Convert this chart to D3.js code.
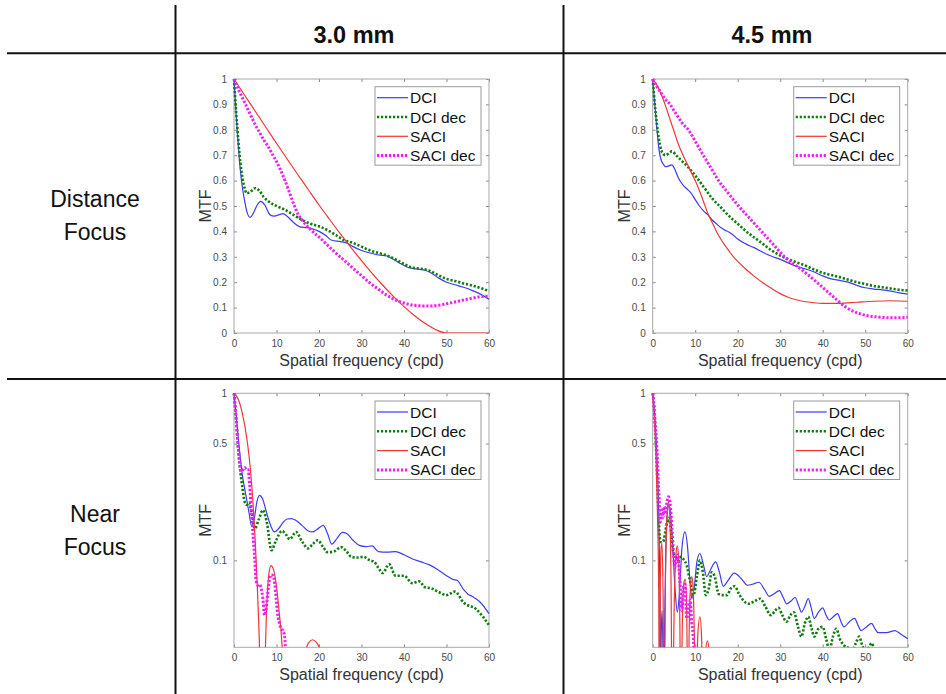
<!DOCTYPE html>
<html>
<head>
<meta charset="utf-8">
<script src="https://cdn.jsdelivr.net/npm/d3@7"></script>
<style>
body { margin: 0; background: #fff; }
svg { display: block; font-family: "Liberation Sans", Arial, sans-serif; }
</style>
</head>
<body>
<div id="chart"></div>
<script>
var width = 946;
var height = 694;

// legend / series
var seriesNames = ["DCI", "DCI dec", "SACI", "SACI dec"];
var seriesColors = ["#3c3cf0", "#0b7d0b", "#f03535", "#f41cf4"];
var seriesWidths = [1.2, 2.6, 1.2, 3];
var seriesDash = [null, "2.2,1.8", null, "2.2,1.8"];

// table text
var columnTitles = ["3.0 mm", "4.5 mm"];
var rowLabels = [["Distance", "Focus"], ["Near", "Focus"]];

// tick labels
var xTicks = [0, 10, 20, 30, 40, 50, 60];
var linTicks = [0, 0.1, 0.2, 0.3, 0.4, 0.5, 0.6, 0.7, 0.8, 0.9, 1];
var logTicks = [0.1, 0.5, 1];
var logMin = 0.0302;

// ---- Distance focus, 3.0 mm : [cpd, MTF]
var dist30DCI = [[0,1],[0.5,0.86],[1,0.74],[1.5,0.64],[2,0.57],[2.5,0.52],[3,0.48],[3.8,0.455],[4.5,0.47],[5.5,0.505],[6.3,0.518],[7.2,0.505],[8.5,0.465],[9.5,0.46],[10.5,0.465],[11.5,0.47],[12.5,0.46],[14,0.435],[15.5,0.418],[17,0.415],[18.5,0.41],[20,0.4],[21.5,0.385],[23,0.365],[25,0.36],[26.5,0.355],[28,0.34],[30,0.325],[32,0.315],[34,0.307],[36,0.303],[37.5,0.29],[39,0.275],[41,0.258],[43,0.252],[45,0.247],[46.5,0.235],[48,0.218],[50,0.2],[52,0.19],[54,0.18],[56,0.168],[58,0.153],[60,0.133]];
var dist30DCIdec = [[0,1],[0.5,0.87],[1,0.76],[1.5,0.67],[2,0.61],[2.5,0.57],[3,0.55],[3.8,0.555],[5,0.57],[6,0.56],[7,0.535],[8,0.52],[9,0.508],[10,0.5],[12,0.485],[14,0.465],[16,0.445],[18,0.43],[20,0.42],[22,0.405],[24,0.385],[26,0.365],[28,0.355],[30,0.34],[32,0.325],[34,0.315],[36,0.305],[38,0.29],[40,0.272],[42,0.257],[44,0.253],[46,0.245],[48,0.228],[50,0.213],[52,0.205],[54,0.195],[56,0.187],[58,0.177],[60,0.165]];
var dist30SACI = [[0,1],[2.5,0.936],[5,0.873],[7.5,0.81],[10,0.747],[12.5,0.685],[15,0.624],[17.5,0.564],[20,0.504],[22.5,0.447],[25,0.391],[27.5,0.337],[30,0.285],[32.5,0.235],[35,0.188],[37.5,0.144],[40,0.104],[42.5,0.068],[45,0.037],[47.5,0.013],[50,0],[55,0],[60,0]];
var dist30SACIdec = [[0,1],[1,0.96],[2,0.925],[3,0.89],[4,0.855],[5,0.82],[6,0.79],[7,0.76],[8,0.735],[9,0.705],[10,0.675],[11,0.64],[12,0.6],[13,0.555],[14,0.51],[15,0.47],[16,0.445],[17,0.425],[18,0.408],[19,0.392],[20,0.378],[22,0.346],[24,0.314],[26,0.285],[28,0.255],[30,0.226],[32,0.197],[34,0.172],[36,0.148],[38,0.13],[40,0.118],[42,0.11],[44,0.107],[46,0.106],[48,0.109],[50,0.115],[52,0.122],[54,0.13],[56,0.137],[58,0.143],[60,0.145]];

// ---- Distance focus, 4.5 mm
var dist45DCI = [[0,1],[0.5,0.9],[1,0.8],[1.5,0.72],[2,0.68],[2.5,0.665],[3,0.655],[3.8,0.658],[4.5,0.662],[5.2,0.645],[6,0.612],[7,0.585],[8,0.568],[9,0.552],[10,0.525],[11,0.5],[12,0.48],[13,0.465],[14,0.445],[15,0.43],[16,0.415],[17,0.405],[18,0.397],[19,0.385],[20,0.37],[22,0.35],[24,0.335],[26,0.317],[28,0.302],[30,0.29],[32,0.275],[34,0.262],[36,0.252],[38,0.24],[40,0.225],[42,0.213],[44,0.207],[46,0.2],[48,0.188],[50,0.178],[52,0.173],[54,0.17],[56,0.165],[58,0.158],[60,0.153]];
var dist45DCIdec = [[0,1],[0.5,0.9],[1,0.82],[1.5,0.76],[2,0.72],[2.5,0.705],[3,0.7],[4,0.71],[4.5,0.715],[5.5,0.7],[7,0.675],[8.5,0.65],[10,0.62],[12,0.575],[14,0.53],[16,0.495],[18,0.46],[20,0.43],[22,0.4],[24,0.375],[26,0.35],[28,0.325],[30,0.305],[32,0.29],[34,0.277],[36,0.265],[38,0.25],[40,0.237],[42,0.228],[44,0.22],[46,0.21],[48,0.2],[50,0.193],[52,0.185],[54,0.18],[56,0.175],[58,0.17],[60,0.167]];
var dist45SACI = [[0,1],[1,0.975],[2,0.94],[3,0.895],[4,0.845],[5,0.795],[6,0.745],[7,0.705],[8,0.67],[9,0.635],[10,0.6],[11,0.56],[12,0.515],[13,0.47],[14,0.435],[15,0.4],[16,0.37],[17,0.345],[18,0.322],[19,0.3],[20,0.282],[22,0.25],[24,0.222],[26,0.197],[28,0.175],[30,0.155],[32,0.14],[34,0.13],[36,0.123],[38,0.119],[40,0.117],[44,0.117],[48,0.121],[52,0.125],[56,0.127],[60,0.125]];
var dist45SACIdec = [[0,1],[1,0.97],[2,0.945],[3,0.92],[4.1,0.9],[5,0.875],[6,0.85],[7,0.825],[8.4,0.8],[10,0.755],[11.9,0.7],[13.7,0.65],[15.5,0.6],[17.8,0.55],[20.2,0.5],[22.9,0.45],[25.6,0.4],[28.3,0.35],[31,0.3],[35,0.25],[38.6,0.2],[42,0.15],[45.6,0.1],[48,0.08],[50,0.07],[53,0.063],[56,0.06],[58,0.06],[60,0.062]];

// ---- Near focus, 3.0 mm (log axis; 0.01 = below the axis floor)
var near30DCI = [[0,1],[0.5,0.75],[1,0.54],[1.5,0.41],[2,0.32],[2.5,0.27],[3,0.23],[3.5,0.195],[4.2,0.16],[4.8,0.18],[5.4,0.225],[6,0.245],[6.7,0.235],[7.5,0.2],[8.5,0.165],[9.5,0.148],[10.5,0.155],[11.5,0.168],[12.5,0.177],[13.5,0.178],[14.5,0.174],[16,0.162],[17.5,0.15],[18.5,0.148],[19.5,0.153],[21,0.162],[22,0.145],[23,0.125],[24.2,0.135],[25.5,0.147],[26.5,0.145],[28,0.132],[29.5,0.123],[31,0.121],[32.5,0.122],[34,0.113],[36,0.112],[38,0.113],[40,0.108],[42,0.102],[44,0.098],[46,0.094],[48,0.088],[50,0.081],[51.5,0.077],[52.5,0.076],[54,0.067],[55,0.063],[56,0.061],[58,0.056],[60,0.048]];
var near30DCIdec = [[0,1],[0.5,0.7],[1,0.46],[1.5,0.34],[2,0.27],[2.5,0.225],[3,0.215],[3.5,0.222],[4.2,0.19],[4.9,0.155],[5.8,0.175],[6.8,0.2],[7.8,0.165],[8.8,0.115],[9.8,0.13],[11.3,0.15],[12.3,0.142],[13.1,0.134],[14.6,0.148],[16,0.13],[17.4,0.118],[18.5,0.125],[19.7,0.132],[21,0.12],[22,0.112],[23.5,0.113],[25.2,0.12],[26.5,0.113],[27.6,0.105],[29,0.104],[30.5,0.105],[32,0.1],[33,0.098],[34,0.09],[35,0.084],[36.5,0.095],[38,0.081],[40,0.081],[42,0.073],[43.5,0.075],[45,0.069],[46.5,0.068],[48,0.065],[50,0.062],[52,0.065],[54,0.056],[57,0.051],[60,0.041]];
var near30SACI = [[0,1],[1,0.92],[2,0.75],[3,0.54],[3.5,0.43],[4,0.32],[4.5,0.215],[5,0.13],[5.5,0.068],[6,0.03],[6.4,0.01],[7,0.01],[7.4,0.03],[7.8,0.06],[8.2,0.083],[8.7,0.093],[9.3,0.088],[10,0.07],[10.6,0.05],[11.2,0.034],[11.6,0.022],[11.9,0.01],[16,0.01],[16.8,0.028],[17.5,0.032],[18.5,0.0335],[19.5,0.032],[20.3,0.029],[21,0.01],[60,0.01]];
var near30SACIdec = [[0,1],[0.5,0.71],[0.9,0.5],[1.3,0.39],[1.7,0.34],[2.1,0.35],[2.5,0.36],[2.9,0.35],[3.3,0.35],[3.7,0.28],[4.1,0.195],[4.5,0.14],[4.9,0.1],[5.2,0.076],[5.6,0.071],[6,0.072],[6.4,0.068],[6.8,0.059],[7.2,0.047],[7.6,0.052],[8,0.066],[8.4,0.078],[8.8,0.082],[9.2,0.081],[9.6,0.072],[9.9,0.06],[10.3,0.047],[10.7,0.042],[11.1,0.039],[11.5,0.038],[11.9,0.035],[12.2,0.025],[12.5,0.01],[60,0.01]];

// ---- Near focus, 4.5 mm
var near45DCI = [[0,1],[0.5,0.72],[1,0.42],[1.4,0.2],[1.7,0.07],[1.9,0.02],[2,0.035],[2.2,0.05],[2.4,0.03],[2.6,0.01],[2.8,0.04],[3.1,0.12],[3.5,0.2],[3.8,0.215],[4.2,0.19],[4.8,0.11],[5.3,0.065],[5.8,0.049],[6.3,0.065],[6.9,0.12],[7.6,0.148],[8.2,0.12],[8.7,0.08],[9.2,0.059],[9.8,0.07],[10.4,0.098],[11.1,0.11],[11.9,0.095],[12.7,0.08],[13.6,0.088],[14.8,0.098],[15.7,0.085],[16.6,0.07],[17.6,0.075],[19.2,0.084],[20.8,0.078],[22.3,0.071],[23.5,0.072],[25,0.074],[26.3,0.067],[27.4,0.061],[28.5,0.063],[29.8,0.066],[30.7,0.06],[31.5,0.055],[32.5,0.057],[33.5,0.06],[34.3,0.054],[35,0.049],[35.8,0.053],[36.6,0.059],[37.3,0.052],[38,0.045],[39,0.049],[40,0.052],[40.8,0.047],[41.5,0.044],[42.5,0.046],[43.5,0.048],[44.3,0.043],[45,0.04],[46.3,0.043],[47.5,0.045],[48.3,0.041],[49,0.038],[50.3,0.04],[51.5,0.042],[52.3,0.039],[53,0.037],[55,0.037],[57,0.038],[58.5,0.036],[60,0.034]];
var near45DCIdec = [[0,1],[0.3,0.85],[0.6,0.6],[0.9,0.4],[1.2,0.25],[1.5,0.16],[1.8,0.13],[2.1,0.128],[2.5,0.13],[3,0.15],[3.4,0.17],[3.8,0.18],[4.3,0.15],[4.9,0.11],[5.5,0.104],[6,0.1],[6.6,0.105],[7.2,0.102],[8,0.093],[8.8,0.075],[9.6,0.062],[10.4,0.08],[11.1,0.1],[11.8,0.085],[12.5,0.062],[13.2,0.068],[13.9,0.085],[14.6,0.08],[15.5,0.063],[16.4,0.062],[17.5,0.062],[18.4,0.068],[19.3,0.07],[20.3,0.063],[21.5,0.057],[22.5,0.055],[24,0.057],[25.3,0.059],[26.5,0.053],[27.8,0.047],[28.8,0.05],[29.6,0.052],[30.5,0.047],[31.5,0.043],[32.4,0.047],[33.2,0.049],[34.2,0.04],[35,0.035],[35.8,0.042],[36.6,0.046],[37.4,0.039],[38,0.035],[39,0.039],[40,0.04],[40.8,0.034],[41.6,0.029],[42.4,0.035],[43.2,0.039],[44,0.034],[45,0.031],[46,0.03],[47,0.029],[47.8,0.032],[48.6,0.035],[49.3,0.031],[50,0.029],[50.8,0.03],[51.5,0.032],[52,0.03]];
var near45SACI = [[0,1],[0.4,0.7],[0.8,0.4],[1.1,0.2],[1.4,0.07],[1.6,0.01],[1.75,0.06],[2,0.12],[2.2,0.125],[2.45,0.06],[2.7,0.01],[3,0.08],[3.4,0.19],[3.7,0.225],[4,0.19],[4.3,0.08],[4.6,0.01],[5.1,0.06],[5.5,0.11],[5.8,0.122],[6.1,0.1],[6.4,0.04],[6.6,0.01],[7,0.045],[7.4,0.075],[7.7,0.077],[8,0.05],[8.3,0.01],[8.6,0.04],[8.9,0.07],[9.2,0.08],[9.5,0.07],[9.8,0.035],[10.1,0.01],[10.6,0.035],[11.1,0.046],[11.5,0.035],[11.8,0.01],[12.4,0.028],[12.9,0.033],[13.3,0.028],[13.6,0.01],[60,0.01]];
var near45SACIdec = [[0,1],[0.3,0.85],[0.6,0.65],[0.94,0.5],[1.2,0.35],[1.5,0.24],[1.8,0.17],[2.1,0.2],[2.4,0.18],[2.7,0.21],[3,0.19],[3.3,0.22],[3.7,0.24],[4.1,0.22],[4.5,0.16],[4.9,0.11],[5.2,0.09],[5.5,0.1],[5.9,0.108],[6.2,0.09],[6.5,0.07],[6.9,0.05],[7.2,0.068],[7.6,0.072],[8,0.045],[8.4,0.05],[8.8,0.058],[9.2,0.042],[9.6,0.033],[9.9,0.02],[10.2,0.01],[60,0.01]];

var panels = [
  { row: 0, col: 0, log: false, series: [dist30DCI, dist30DCIdec, dist30SACI, dist30SACIdec] },
  { row: 0, col: 1, log: false, series: [dist45DCI, dist45DCIdec, dist45SACI, dist45SACIdec] },
  { row: 1, col: 0, log: true, series: [near30DCI, near30DCIdec, near30SACI, near30SACIdec] },
  { row: 1, col: 1, log: true, series: [near45DCI, near45DCIdec, near45SACI, near45SACIdec] }
];

var colX = [234, 652.7];
var rowY = [79, 393.3];
var plotW = 255;
var plotH = 254;

var svg = d3.select("#chart").append("svg")
    .attr("width", width)
    .attr("height", height);

svg.append("rect").attr("width", width).attr("height", height).attr("fill", "#fff");

// table grid
var grid = svg.append("g").attr("stroke", "#111").attr("stroke-width", 2);
grid.append("line").attr("x1", 175.5).attr("x2", 175.5).attr("y1", 5).attr("y2", height);
grid.append("line").attr("x1", 563.5).attr("x2", 563.5).attr("y1", 5).attr("y2", height);
grid.append("line").attr("x1", 7).attr("x2", width).attr("y1", 53.3).attr("y2", 53.3);
grid.append("line").attr("x1", 7).attr("x2", width).attr("y1", 379).attr("y2", 379);

// column headers
svg.selectAll(".colTitle")
    .data(columnTitles)
  .enter().append("text")
    .attr("class", "colTitle")
    .attr("x", function(d, i) { return [354, 772][i]; })
    .attr("y", 42.5)
    .attr("text-anchor", "middle")
    .attr("font-size", "23.5px")
    .attr("font-weight", "bold")
    .attr("fill", "#111")
    .text(function(d) { return d; });

// row labels
rowLabels.forEach(function(lines, r) {
  var baseY = [207.3, 521.7][r];
  lines.forEach(function(t, k) {
    svg.append("text")
      .attr("x", 95)
      .attr("y", baseY + k * 33)
      .attr("text-anchor", "middle")
      .attr("font-size", "23px")
      .attr("fill", "#111")
      .text(t);
  });
});

var line = d3.line().curve(d3.curveMonotoneX);

panels.forEach(function(p, pi) {
  var x0 = colX[p.col], y0 = rowY[p.row];
  var g = svg.append("g").attr("transform", "translate(" + x0 + "," + y0 + ")");

  var x = d3.scaleLinear().domain([0, 60]).range([0, plotW]);
  var y = p.log
    ? d3.scaleLog().domain([logMin, 1]).range([plotH, 0])
    : d3.scaleLinear().domain([0, 1]).range([plotH, 0]);
  var yTicks = p.log ? logTicks : linTicks;

  g.append("rect").attr("width", plotW).attr("height", plotH).attr("fill", "#fff");

  // axes (MATLAB style: ticks inside, box on)
  var axStyle = function(sel) {
    sel.select(".domain").remove();
    sel.selectAll(".tick line").attr("stroke", "#8a8a8a");
    sel.selectAll(".tick text").attr("fill", "#4a4a4a").attr("font-size", "10px")
      .attr("font-family", "Liberation Sans, Arial, sans-serif");
  };
  g.append("g").attr("transform", "translate(0," + plotH + ")")
    .call(d3.axisBottom(x).tickValues(xTicks).tickSizeInner(-3).tickSizeOuter(0).tickPadding(7)
      .tickFormat(d3.format("d")))
    .call(axStyle);
  g.append("g")
    .call(d3.axisTop(x).tickValues(xTicks).tickSizeInner(-3).tickSizeOuter(0).tickFormat(""))
    .call(axStyle);
  g.append("g")
    .call(d3.axisLeft(y).tickValues(yTicks).tickSizeInner(-3).tickSizeOuter(0).tickPadding(7)
      .tickFormat(function(d) { return String(+d.toFixed(1)); }))
    .call(axStyle);
  g.append("g").attr("transform", "translate(" + plotW + ",0)")
    .call(d3.axisRight(y).tickValues(yTicks).tickSizeInner(-3).tickSizeOuter(0).tickFormat(""))
    .call(axStyle);

  g.append("rect").attr("width", plotW).attr("height", plotH)
    .attr("fill", "none").attr("stroke", "#a8a8a8").attr("stroke-width", 1);

  // curves
  var clipId = "clip" + pi;
  g.append("clipPath").attr("id", clipId)
    .append("rect").attr("x", -2).attr("y", -2).attr("width", plotW + 4).attr("height", plotH + 2);

  var curves = g.append("g").attr("clip-path", "url(#" + clipId + ")");
  p.series.forEach(function(s, si) {
    line.x(function(d) { return x(d[0]); })
        .y(function(d) { return p.log ? y(Math.max(d[1], 0.005)) : y(d[1]); });
    curves.append("path")
      .attr("d", line(s))
      .attr("fill", "none")
      .attr("stroke", seriesColors[si])
      .attr("stroke-width", seriesWidths[si])
      .attr("stroke-dasharray", seriesDash[si])
      .attr("stroke-linejoin", "round");
  });

  // axis titles
  g.append("text")
    .attr("transform", "translate(-23," + (plotH / 2) + ") rotate(-90)")
    .attr("text-anchor", "middle")
    .attr("font-size", "16px")
    .attr("fill", "#333")
    .text("MTF");
  g.append("text")
    .attr("x", plotW / 2)
    .attr("y", plotH + 33)
    .attr("text-anchor", "middle")
    .attr("font-size", "16px")
    .attr("fill", "#333")
    .text("Spatial frequency (cpd)");

  // legend
  var lw = 106, lh = 78.5;
  var leg = g.append("g").attr("transform", "translate(" + (plotW - 8 - lw) + ",7.7)");
  leg.append("rect").attr("width", lw).attr("height", lh)
    .attr("fill", "#fff").attr("stroke", "#9a9a9a").attr("stroke-width", 1);
  seriesNames.forEach(function(name, si) {
    var cy = 11 + si * 19.3;
    leg.append("line")
      .attr("x1", 2).attr("x2", 33).attr("y1", cy).attr("y2", cy)
      .attr("stroke", seriesColors[si])
      .attr("stroke-width", seriesWidths[si])
      .attr("stroke-dasharray", seriesDash[si]);
    leg.append("text")
      .attr("x", 35).attr("y", cy).attr("dy", "0.36em")
      .attr("font-size", "15.5px")
      .attr("fill", "#111")
      .text(name);
  });
});
</script>
</body>
</html>
